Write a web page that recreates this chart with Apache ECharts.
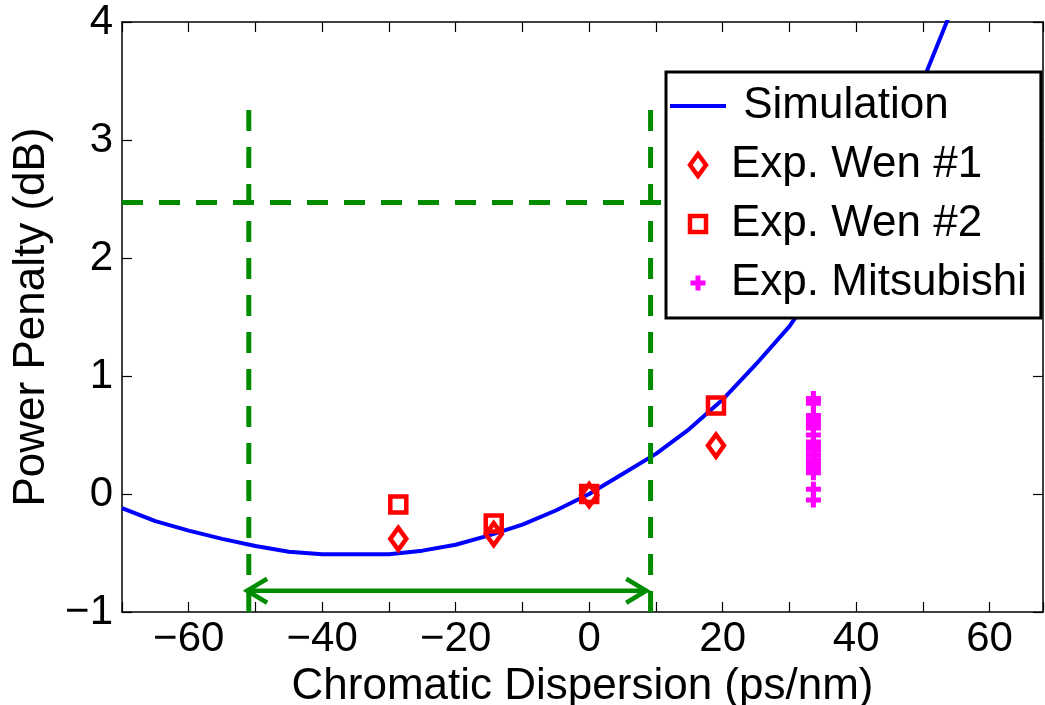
<!DOCTYPE html>
<html>
<head>
<meta charset="utf-8">
<script src="https://cdn.jsdelivr.net/npm/echarts@6/dist/echarts.min.js"></script>
<style>
    html, body { margin: 0; padding: 0; background: #fff; }
    #chart-container { width: 1045px; height: 705px; }
</style>
</head>
<body>
<div id="chart-container"></div>
<script>
// 模擬曲線
const simX = [-70, -65, -60, -55, -50, -45, -40, -35, -30, -25, -20, -15, -10, -5, 0, 5, 10, 15, 20, 25, 30, 35, 40, 45, 50, 55];
const simY = [-0.12, -0.23, -0.31, -0.38, -0.44, -0.49, -0.51, -0.51, -0.51, -0.48, -0.43, -0.35, -0.26, -0.14, 0, 0.17, 0.34, 0.55, 0.80, 1.10, 1.42, 1.83, 2.30, 2.85, 3.50, 4.20];

// 實驗點
const wen1X = [-28.6, -14.3, 0, 19];
const wen1Y = [-0.38, -0.34, -0.01, 0.41];
const wen2X = [-28.6, -14.3, 0, 19];
const wen2Y = [-0.09, -0.25, 0.0, 0.75];
const mitsuX = [33.6, 33.6, 33.6, 33.6, 33.6, 33.6, 33.6, 33.6, 33.6, 33.6, 33.6, 33.6, 33.6, 33.6, 33.6, 33.6, 33.6];
const mitsuY = [0.81, 0.77, 0.665, 0.63, 0.595, 0.56, 0.50, 0.41, 0.37, 0.33, 0.29, 0.25, 0.21, 0.18, 0.04, -0.05, 0.44];

// 綠色輔助線
const guideX = [-51.0, 9.2];
const guideTop = 3.31;
const penaltyLimit = 2.47;
const penaltyLimitEnd = 10.8;
const arrowX = [-51.4, 8.7];
const arrowY = -0.82;

const legendNames = ['Simulation', 'Exp. Wen #1', 'Exp. Wen #2', 'Exp. Mitsubishi'];

const font = 'Liberation Sans, Arial, Helvetica, sans-serif';
const green = '#008c00';
const red = '#ff0000';
const minus = (v) => String(v).replace('-', '\u2212');
const pairs = (xs, ys) => xs.map((x, i) => [x, ys[i]]);

// 符號 (22x22 方框, 用零長度線段撐開邊界)
const pad = ' M0,0L0,0 M22,22L22,22';
const diamondPath = 'path://M11,0L19,11L11,22L3,11Z' + pad;
const squarePath = 'path://M3,3H19V19H3Z' + pad;
const plusPath = 'path://M8.5,3.5H13.5V8.5H18.5V13.5H13.5V18.5H8.5V13.5H3.5V8.5H8.5Z' + pad;
const lineIcon = 'path://M0,0H56V4H0Z';

const chart = echarts.init(document.getElementById('chart-container'));

const axisCommon = {
    axisLine: { show: true, onZero: false, lineStyle: { color: '#000', width: 1.5 } },
    axisTick: { show: true, inside: true, length: 10, lineStyle: { color: '#000', width: 1.2 } },
    splitLine: { show: false }
};

const dashStyle = { color: green, width: 5, type: [21, 16] };
const hollowStyle = { color: 'rgba(0,0,0,0)', borderColor: red, borderWidth: 4.5, opacity: 1 };

const option = {
    animation: false,
    backgroundColor: '#fff',
    grid: {
        left: 122,
        right: 2,
        top: 22,
        bottom: 93,
        outerBoundsMode: 'none'
    },
    legend: {
        data: [
            { name: legendNames[0], icon: lineIcon, itemStyle: { color: '#0000ff', borderWidth: 0 } },
            { name: legendNames[1], itemStyle: { borderWidth: 4.5 } },
            { name: legendNames[2], itemStyle: { borderWidth: 4.5 } },
            { name: legendNames[3] }
        ],
        orient: 'vertical',
        left: 666,
        top: 72,
        padding: [9, 14, 10, 4],
        itemWidth: 56,
        itemHeight: 22,
        itemGap: 9,
        backgroundColor: '#fff',
        borderColor: '#000',
        borderWidth: 3,
        borderRadius: 0,
        selectedMode: false,
        formatter: (name) => (name === 'Simulation' ? ' ' + name : name),
        textStyle: { fontFamily: font, fontSize: 44, color: '#000', lineHeight: 50 }
    },
    xAxis: [
        Object.assign({
            type: 'value',
            min: -70,
            max: 68,
            interval: 10,
            name: 'Chromatic Dispersion (ps/nm)',
            nameLocation: 'middle',
            nameGap: 44,
            nameTextStyle: { fontFamily: font, fontSize: 44, color: '#000' },
            axisLabel: {
                margin: 6,
                fontFamily: font,
                fontSize: 42,
                color: '#000',
                showMinLabel: true,
                showMaxLabel: true,
                formatter: (v) => (v % 20 === 0 && v > -70 && v <= 60 ? minus(v) : '')
            }
        }, axisCommon),
        Object.assign({
            type: 'value',
            position: 'top',
            min: -70,
            max: 68,
            interval: 10,
            axisLabel: { show: false }
        }, axisCommon)
    ],
    yAxis: [
        Object.assign({
            type: 'value',
            min: -1,
            max: 4,
            interval: 1,
            name: 'Power Penalty (dB)',
            nameLocation: 'middle',
            nameGap: 68,
            nameTextStyle: { fontFamily: font, fontSize: 44, color: '#000' },
            axisLabel: { margin: 9, fontFamily: font, fontSize: 42, color: '#000', formatter: minus }
        }, axisCommon),
        Object.assign({
            type: 'value',
            position: 'right',
            min: -1,
            max: 4,
            interval: 1,
            axisLabel: { show: false }
        }, axisCommon)
    ],
    series: [
        {
            name: 'Simulation',
            type: 'line',
            symbol: 'none',
            clip: true,
            lineStyle: { color: '#0000ff', width: 4 },
            itemStyle: { color: '#0000ff' },
            data: pairs(simX, simY),
            z: 2
        },
        {
            name: 'Exp. Wen #2',
            type: 'scatter',
            symbol: squarePath,
            symbolSize: 22,
            itemStyle: hollowStyle,
            data: pairs(wen2X, wen2Y),
            z: 3
        },
        {
            name: 'Exp. Wen #1',
            type: 'scatter',
            symbol: diamondPath,
            symbolSize: 22,
            itemStyle: hollowStyle,
            data: pairs(wen1X, wen1Y),
            z: 3
        },
        {
            name: 'Exp. Mitsubishi',
            type: 'scatter',
            symbol: plusPath,
            symbolSize: 22,
            itemStyle: { color: '#ff00ff', borderWidth: 0, opacity: 1 },
            data: pairs(mitsuX, mitsuY),
            z: 3
        },
        // 綠色虛線
        {
            name: 'guide-left',
            type: 'line',
            symbol: 'none',
            lineStyle: dashStyle,
            data: [[guideX[0], -1], [guideX[0], guideTop]],
            z: 4
        },
        {
            name: 'guide-right',
            type: 'line',
            symbol: 'none',
            lineStyle: dashStyle,
            data: [[guideX[1], -1], [guideX[1], guideTop]],
            z: 4
        },
        {
            name: 'guide-limit',
            type: 'line',
            symbol: 'none',
            lineStyle: dashStyle,
            data: [[-70, penaltyLimit], [penaltyLimitEnd, penaltyLimit]],
            z: 4
        },
        // 雙箭頭
        {
            name: 'guide-arrow',
            type: 'custom',
            data: [[arrowX[0], arrowX[1], arrowY]],
            z: 4,
            renderItem: (params, api) => {
                const p1 = api.coord([api.value(0), api.value(2)]);
                const p2 = api.coord([api.value(1), api.value(2)]);
                const style = { stroke: green, lineWidth: 4.5, fill: null, lineJoin: 'miter' };
                return {
                    type: 'group',
                    children: [
                        { type: 'line', shape: { x1: p1[0], y1: p1[1], x2: p2[0], y2: p2[1] }, style: style },
                        { type: 'polyline', shape: { points: [[p1[0] + 21, p1[1] - 12], [p1[0] + 1, p1[1]], [p1[0] + 21, p1[1] + 12]] }, style: style },
                        { type: 'polyline', shape: { points: [[p2[0] - 21, p2[1] - 12], [p2[0] - 1, p2[1]], [p2[0] - 21, p2[1] + 12]] }, style: style }
                    ]
                };
            }
        }
    ]
};

chart.setOption(option);
</script>
</body>
</html>
